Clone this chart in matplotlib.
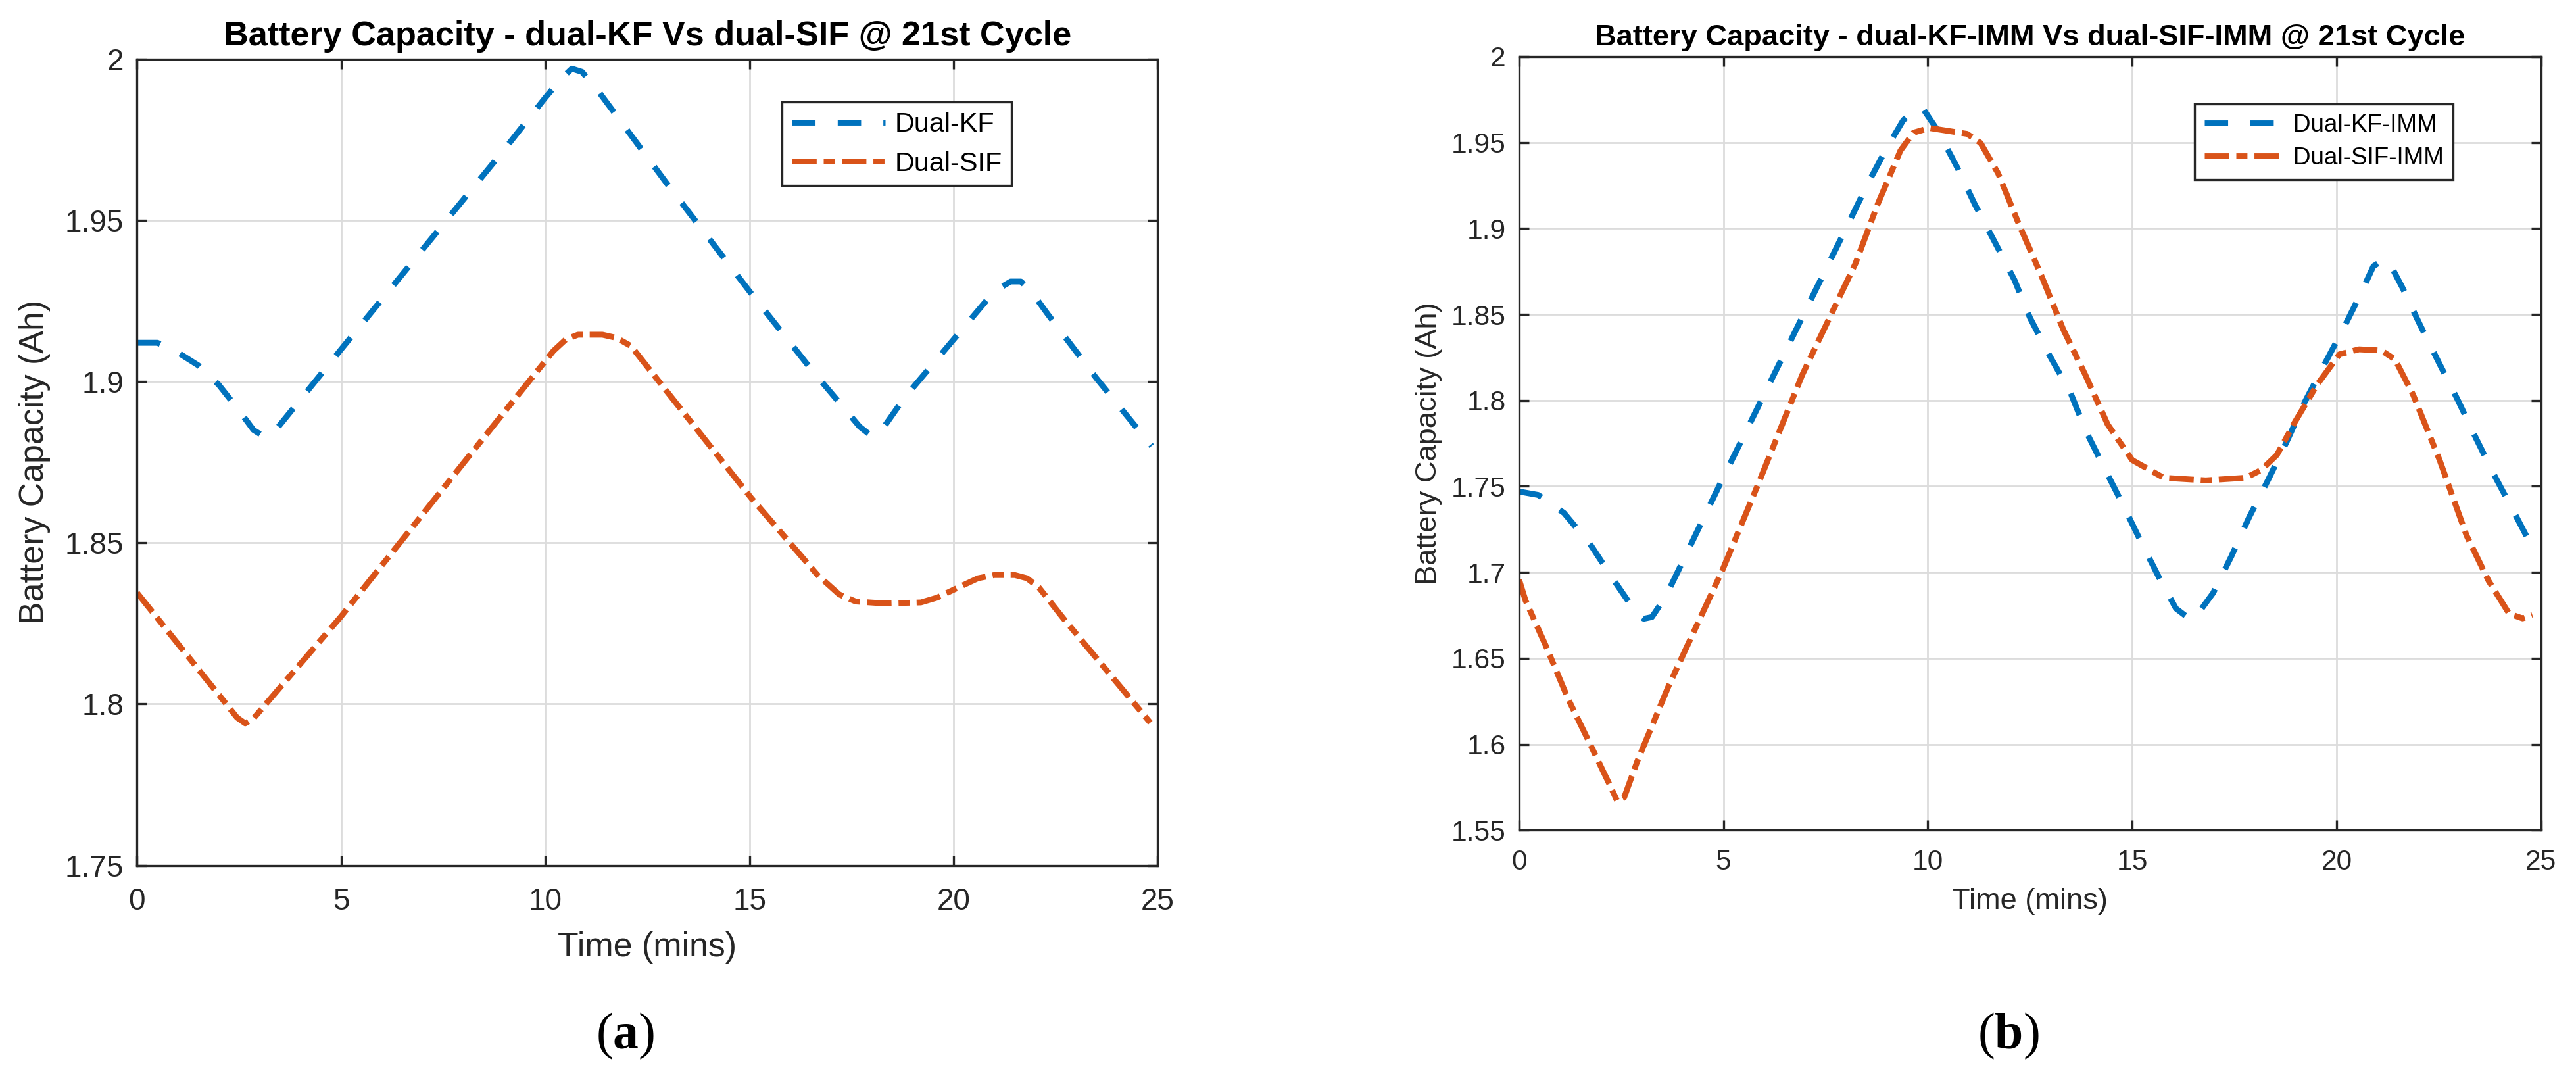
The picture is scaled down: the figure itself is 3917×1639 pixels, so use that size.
import matplotlib
matplotlib.use("Agg")
import matplotlib.pyplot as plt
from matplotlib.ticker import FuncFormatter

# --- Data: panel (a) ---
kf_t = [0, 0.5, 1.0, 1.5, 2.0, 2.5, 2.85, 3.1, 3.4, 5.0, 7.0, 9.0, 10.0, 10.4,
        10.65, 10.9, 11.3, 13.0, 15.0, 16.5, 17.3, 17.7, 18.0, 18.3, 18.8, 20.0,
        21.0, 21.4, 21.65, 21.9, 22.3, 23.5, 24.85]
kf_v = [1.912, 1.912, 1.909, 1.905, 1.899, 1.891, 1.885, 1.883, 1.885, 1.910,
        1.941, 1.972, 1.988, 1.994, 1.997, 1.996, 1.990, 1.961, 1.928, 1.904,
        1.892, 1.886, 1.883, 1.886, 1.895, 1.913, 1.928, 1.931, 1.931, 1.928,
        1.921, 1.901, 1.880]

sif_t = [0, 2.45, 2.65, 2.85, 5.0, 8.43, 10.2, 10.5, 10.8, 11.4, 11.75, 12.1,
         12.86, 15.05, 16.67, 17.2, 17.6, 18.3, 19.2, 19.6, 20.06, 20.6, 21.0,
         21.5, 21.8, 22.1, 22.7, 24.82]
sif_v = [1.8345, 1.7958, 1.7940, 1.7955, 1.8272, 1.8816, 1.9095, 1.9130,
         1.9145, 1.9145, 1.9135, 1.9110, 1.8988, 1.8638, 1.8400, 1.8340,
         1.8318, 1.8312, 1.8315, 1.8330, 1.8358, 1.8390, 1.8400, 1.8400,
         1.8390, 1.8360, 1.8264, 1.7942]

# --- Data: panel (b) ---
kfimm_t = [0, 0.47, 1.1, 1.75, 2.33, 2.88, 3.05, 3.25, 3.59, 4.93, 8.08, 8.53,
           9.0, 9.4, 9.75, 9.9, 10.24, 10.73, 11.15, 11.64, 12.12, 12.5, 12.98,
           13.49, 13.87, 14.31, 14.78, 15.23, 15.7, 16.07, 16.4, 16.55, 16.98,
           17.43, 17.86, 18.33, 18.78, 19.22, 19.67, 20.15, 20.58, 20.9, 21.1,
           21.27, 21.61, 22.05, 22.51, 22.97, 23.41, 23.87, 24.34, 24.8]
kfimm_v = [1.747, 1.745, 1.7345, 1.716, 1.695, 1.676, 1.673, 1.674, 1.686,
           1.752, 1.904, 1.926, 1.947, 1.963, 1.970, 1.969, 1.957, 1.935,
           1.914, 1.892, 1.870, 1.848, 1.826, 1.8045, 1.782, 1.761, 1.739,
           1.717, 1.695, 1.679, 1.673, 1.674, 1.688, 1.7095, 1.732, 1.754,
           1.776, 1.799, 1.8195, 1.841, 1.8615, 1.878, 1.881, 1.881, 1.8656,
           1.8435, 1.8216, 1.800, 1.778, 1.756, 1.735, 1.714]

sifimm_t = [0, 0.16, 0.66, 1.2, 1.74, 2.24, 2.4, 2.57, 2.89, 3.66, 4.97, 5.84,
            6.93, 8.23, 8.78, 9.33, 9.65, 10.04, 10.96, 11.29, 11.72, 12.22,
            12.76, 13.31, 13.85, 14.4, 15.0, 15.77, 16.8, 17.78, 18.16, 18.54,
            18.97, 19.52, 20.07, 20.55, 21.1, 21.43, 21.87, 22.52, 23.18, 23.72,
            24.22, 24.55, 24.79]
sifimm_v = [1.6957, 1.6835, 1.657, 1.6264, 1.600, 1.5753, 1.567, 1.569, 1.590,
            1.634, 1.701, 1.7508, 1.815, 1.8796, 1.9145, 1.9453, 1.9557, 1.9584,
            1.955, 1.9497, 1.932, 1.9029, 1.8736, 1.8414, 1.815, 1.786, 1.7653,
            1.755, 1.7535, 1.755, 1.7596, 1.7683, 1.787, 1.809, 1.8268, 1.8297,
            1.829, 1.8238, 1.8034, 1.7653, 1.7214, 1.695, 1.676, 1.6732, 1.6752]

x_ticks = [0, 5, 10, 15, 20, 25]
a_yticks = [1.75, 1.8, 1.85, 1.9, 1.95, 2.0]
b_yticks = [1.55, 1.6, 1.65, 1.7, 1.75, 1.8, 1.85, 1.9, 1.95, 2.0]

# --- Styles ---
BLUE = "#0072BD"
ORANGE = "#D95319"
DARK = "#262626"
SANS = ["Liberation Sans", "DejaVu Sans"]
DASH = (0, (4.0, 3.8))
DASHDOT = (0, (4.2, 1.2, 1.9, 1.2))
LW = 3.2

plt.rcParams["font.family"] = SANS
plt.rcParams["mathtext.fontset"] = "custom"
plt.rcParams["mathtext.rm"] = "Liberation Serif"
plt.rcParams["mathtext.bf"] = "Liberation Serif:bold"

fig = plt.figure(figsize=(3917 / 200, 1639 / 200), dpi=200)
ax_a = fig.add_axes([0.0532, 0.1973, 0.3962, 0.748])
ax_b = fig.add_axes([0.5897, 0.2298, 0.3967, 0.7178])


def style_axes(ax, yticks, tick_fs, lab_fs, xpad, ylab_x, xlab_y):
    ax.set_xlim(0, 25)
    ax.set_ylim(yticks[0], yticks[-1])
    ax.set_xticks(x_ticks)
    ax.set_yticks(yticks)
    fmt = FuncFormatter(lambda v, p: "%g" % round(v, 3))
    ax.xaxis.set_major_formatter(fmt)
    ax.yaxis.set_major_formatter(fmt)
    ax.grid(True, color="#dcdcdc", lw=1.0)
    ax.set_axisbelow(True)
    for s in ax.spines.values():
        s.set_color(DARK)
        s.set_linewidth(1.2)
    ax.tick_params(direction="in", length=5.5, width=1.2, colors=DARK,
                   top=True, right=True, labelsize=tick_fs)
    ax.tick_params(axis="x", pad=xpad)
    ax.tick_params(axis="y", pad=7.3)
    ax.set_xlabel("Time (mins)", fontsize=lab_fs, color=DARK)
    ax.set_ylabel("Battery Capacity (Ah)", fontsize=lab_fs, color=DARK)
    ax.yaxis.set_label_coords(ylab_x, 0.5)
    ax.xaxis.set_label_coords(0.5, xlab_y)


# --- Panel (a) ---
ax_a.plot(kf_t, kf_v, color=BLUE, lw=LW, ls=DASH, label="Dual-KF")
ax_a.plot(sif_t, sif_v, color=ORANGE, lw=LW, ls=DASHDOT, label="Dual-SIF")
style_axes(ax_a, a_yticks, 16.5, 18.7, 12.0, -0.0847, -0.0819)
ax_a.set_title("Battery Capacity - dual-KF Vs dual-SIF @ 21st Cycle",
               fontsize=18.8, fontweight="bold", pad=7.4)
leg = ax_a.legend(loc="upper left", bbox_to_anchor=(0.632, 0.9466),
                  borderaxespad=0, fancybox=False, framealpha=1,
                  edgecolor=DARK, fontsize=14.9, handlelength=3.43,
                  handletextpad=0.34, borderpad=0.36, labelspacing=0.52)
leg.get_frame().set_linewidth(1.2)

# --- Panel (b) ---
ax_b.plot(kfimm_t, kfimm_v, color=BLUE, lw=LW, ls=DASH, label="Dual-KF-IMM")
ax_b.plot(sifimm_t, sifimm_v, color=ORANGE, lw=LW, ls=DASHDOT,
          label="Dual-SIF-IMM")
style_axes(ax_b, b_yticks, 15.3, 16.3, 10.4, -0.0753, -0.0748)
ax_b.set_title("Battery Capacity - dual-KF-IMM Vs dual-SIF-IMM @ 21st Cycle",
               fontsize=16.3, fontweight="bold", pad=6.1)
leg = ax_b.legend(loc="upper left", bbox_to_anchor=(0.661, 0.9388),
                  borderaxespad=0, fancybox=False, framealpha=1,
                  edgecolor=DARK, fontsize=13.3, handlelength=3.22,
                  handletextpad=0.43, borderpad=0.4, labelspacing=0.42)
leg.get_frame().set_linewidth(1.2)

# --- Sub-figure captions ---
for label, x in [("a", 951 / 3917), ("b", 3054 / 3917)]:
    fig.text(x, 1 - 1575 / 1639, "($\\mathbf{%s}$)" % label, fontsize=28,
             family="Liberation Serif", ha="center", va="center")

fig.savefig("out.png", dpi=200)
